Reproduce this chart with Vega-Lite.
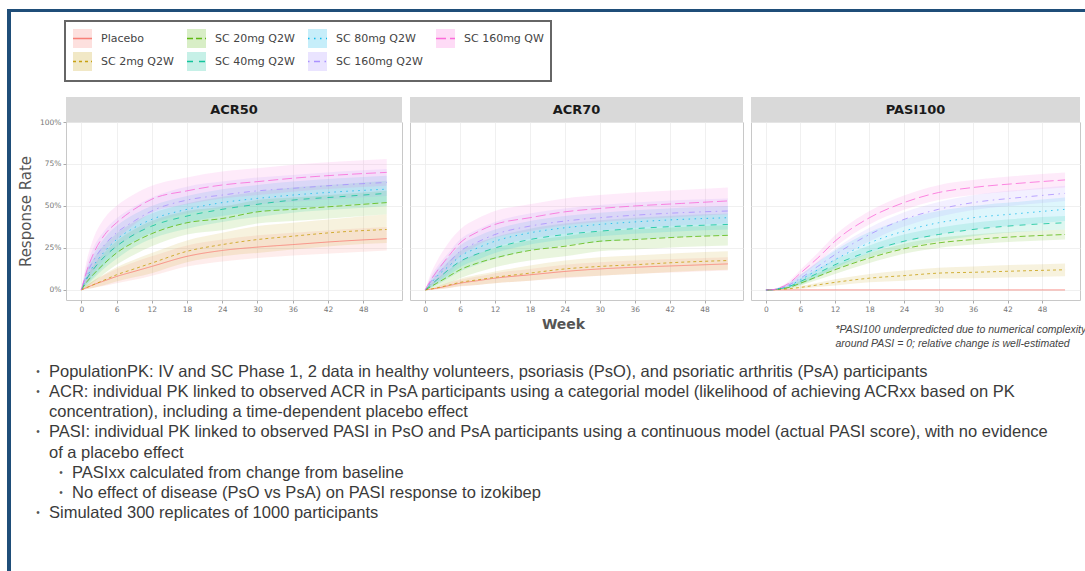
{
"background": "white",
"padding": {"left": 7, "top": 9, "right": 0, "bottom": 0},
"spacing": 0,
"config": {
 "font": "DejaVu Sans",
 "view": {"stroke": "#c8c8c8"},
 "axis": {"domain": false, "gridColor": "#ececec", "gridWidth": 0.8, "tickColor": "#aaaaaa", "tickSize": 3, "labelColor": "#777777", "labelFontSize": 7.5, "labelPadding": 2, "titleColor": "#555555", "labelFlush": false},
 "legend": {"strokeWidth": 2}
},
"datasets": {
 "acr50": [
  {"arm":"Placebo","wk":0,"y":0,"lo":0,"hi":0},{"arm":"Placebo","wk":1,"y":0.015,"lo":0.005,"hi":0.03},{"arm":"Placebo","wk":2,"y":0.03,"lo":0.012,"hi":0.05},{"arm":"Placebo","wk":4,"y":0.055,"lo":0.025,"hi":0.09},{"arm":"Placebo","wk":6,"y":0.08,"lo":0.04,"hi":0.125},{"arm":"Placebo","wk":9,"y":0.11,"lo":0.06,"hi":0.165},{"arm":"Placebo","wk":12,"y":0.14,"lo":0.085,"hi":0.2},{"arm":"Placebo","wk":18,"y":0.2,"lo":0.14,"hi":0.265},{"arm":"Placebo","wk":24,"y":0.235,"lo":0.17,"hi":0.3},{"arm":"Placebo","wk":30,"y":0.255,"lo":0.19,"hi":0.325},{"arm":"Placebo","wk":36,"y":0.27,"lo":0.205,"hi":0.34},{"arm":"Placebo","wk":44,"y":0.29,"lo":0.22,"hi":0.36},{"arm":"Placebo","wk":52,"y":0.305,"lo":0.235,"hi":0.375},
  {"arm":"SC 2mg Q2W","wk":0,"y":0,"lo":0,"hi":0},{"arm":"SC 2mg Q2W","wk":1,"y":0.015,"lo":0.005,"hi":0.03},{"arm":"SC 2mg Q2W","wk":2,"y":0.03,"lo":0.012,"hi":0.055},{"arm":"SC 2mg Q2W","wk":4,"y":0.06,"lo":0.03,"hi":0.095},{"arm":"SC 2mg Q2W","wk":6,"y":0.09,"lo":0.05,"hi":0.135},{"arm":"SC 2mg Q2W","wk":9,"y":0.125,"lo":0.075,"hi":0.18},{"arm":"SC 2mg Q2W","wk":12,"y":0.16,"lo":0.1,"hi":0.22},{"arm":"SC 2mg Q2W","wk":18,"y":0.23,"lo":0.165,"hi":0.295},{"arm":"SC 2mg Q2W","wk":24,"y":0.27,"lo":0.2,"hi":0.34},{"arm":"SC 2mg Q2W","wk":30,"y":0.3,"lo":0.22,"hi":0.38},{"arm":"SC 2mg Q2W","wk":36,"y":0.32,"lo":0.24,"hi":0.4},{"arm":"SC 2mg Q2W","wk":44,"y":0.345,"lo":0.265,"hi":0.425},{"arm":"SC 2mg Q2W","wk":52,"y":0.36,"lo":0.28,"hi":0.45},
  {"arm":"SC 20mg Q2W","wk":0,"y":0,"lo":0,"hi":0},{"arm":"SC 20mg Q2W","wk":1,"y":0.05,"lo":0.02,"hi":0.085},{"arm":"SC 20mg Q2W","wk":2,"y":0.09,"lo":0.045,"hi":0.14},{"arm":"SC 20mg Q2W","wk":4,"y":0.16,"lo":0.1,"hi":0.225},{"arm":"SC 20mg Q2W","wk":6,"y":0.22,"lo":0.15,"hi":0.29},{"arm":"SC 20mg Q2W","wk":9,"y":0.285,"lo":0.21,"hi":0.36},{"arm":"SC 20mg Q2W","wk":12,"y":0.335,"lo":0.26,"hi":0.41},{"arm":"SC 20mg Q2W","wk":18,"y":0.4,"lo":0.33,"hi":0.47},{"arm":"SC 20mg Q2W","wk":24,"y":0.425,"lo":0.355,"hi":0.495},{"arm":"SC 20mg Q2W","wk":30,"y":0.465,"lo":0.395,"hi":0.535},{"arm":"SC 20mg Q2W","wk":36,"y":0.48,"lo":0.41,"hi":0.55},{"arm":"SC 20mg Q2W","wk":44,"y":0.5,"lo":0.43,"hi":0.57},{"arm":"SC 20mg Q2W","wk":52,"y":0.52,"lo":0.45,"hi":0.59},
  {"arm":"SC 40mg Q2W","wk":0,"y":0,"lo":0,"hi":0},{"arm":"SC 40mg Q2W","wk":1,"y":0.07,"lo":0.03,"hi":0.115},{"arm":"SC 40mg Q2W","wk":2,"y":0.12,"lo":0.065,"hi":0.18},{"arm":"SC 40mg Q2W","wk":4,"y":0.2,"lo":0.13,"hi":0.27},{"arm":"SC 40mg Q2W","wk":6,"y":0.26,"lo":0.185,"hi":0.335},{"arm":"SC 40mg Q2W","wk":9,"y":0.33,"lo":0.255,"hi":0.405},{"arm":"SC 40mg Q2W","wk":12,"y":0.38,"lo":0.305,"hi":0.455},{"arm":"SC 40mg Q2W","wk":18,"y":0.44,"lo":0.365,"hi":0.515},{"arm":"SC 40mg Q2W","wk":24,"y":0.48,"lo":0.405,"hi":0.555},{"arm":"SC 40mg Q2W","wk":30,"y":0.51,"lo":0.435,"hi":0.585},{"arm":"SC 40mg Q2W","wk":36,"y":0.535,"lo":0.46,"hi":0.61},{"arm":"SC 40mg Q2W","wk":44,"y":0.555,"lo":0.48,"hi":0.63},{"arm":"SC 40mg Q2W","wk":52,"y":0.575,"lo":0.5,"hi":0.65},
  {"arm":"SC 80mg Q2W","wk":0,"y":0,"lo":0,"hi":0},{"arm":"SC 80mg Q2W","wk":1,"y":0.08,"lo":0.035,"hi":0.13},{"arm":"SC 80mg Q2W","wk":2,"y":0.14,"lo":0.075,"hi":0.205},{"arm":"SC 80mg Q2W","wk":4,"y":0.23,"lo":0.15,"hi":0.31},{"arm":"SC 80mg Q2W","wk":6,"y":0.3,"lo":0.22,"hi":0.38},{"arm":"SC 80mg Q2W","wk":9,"y":0.37,"lo":0.29,"hi":0.45},{"arm":"SC 80mg Q2W","wk":12,"y":0.42,"lo":0.34,"hi":0.5},{"arm":"SC 80mg Q2W","wk":18,"y":0.48,"lo":0.4,"hi":0.56},{"arm":"SC 80mg Q2W","wk":24,"y":0.52,"lo":0.44,"hi":0.6},{"arm":"SC 80mg Q2W","wk":30,"y":0.545,"lo":0.465,"hi":0.625},{"arm":"SC 80mg Q2W","wk":36,"y":0.565,"lo":0.485,"hi":0.645},{"arm":"SC 80mg Q2W","wk":44,"y":0.585,"lo":0.505,"hi":0.665},{"arm":"SC 80mg Q2W","wk":52,"y":0.6,"lo":0.52,"hi":0.68},
  {"arm":"SC 160mg Q2W","wk":0,"y":0,"lo":0,"hi":0},{"arm":"SC 160mg Q2W","wk":1,"y":0.1,"lo":0.045,"hi":0.155},{"arm":"SC 160mg Q2W","wk":2,"y":0.17,"lo":0.095,"hi":0.245},{"arm":"SC 160mg Q2W","wk":4,"y":0.27,"lo":0.185,"hi":0.355},{"arm":"SC 160mg Q2W","wk":6,"y":0.34,"lo":0.255,"hi":0.425},{"arm":"SC 160mg Q2W","wk":9,"y":0.41,"lo":0.325,"hi":0.495},{"arm":"SC 160mg Q2W","wk":12,"y":0.47,"lo":0.39,"hi":0.55},{"arm":"SC 160mg Q2W","wk":18,"y":0.535,"lo":0.455,"hi":0.615},{"arm":"SC 160mg Q2W","wk":24,"y":0.565,"lo":0.485,"hi":0.645},{"arm":"SC 160mg Q2W","wk":30,"y":0.59,"lo":0.51,"hi":0.67},{"arm":"SC 160mg Q2W","wk":36,"y":0.605,"lo":0.525,"hi":0.685},{"arm":"SC 160mg Q2W","wk":44,"y":0.625,"lo":0.545,"hi":0.705},{"arm":"SC 160mg Q2W","wk":52,"y":0.64,"lo":0.56,"hi":0.72},
  {"arm":"SC 160mg QW","wk":0,"y":0,"lo":0,"hi":0},{"arm":"SC 160mg QW","wk":1,"y":0.12,"lo":0.055,"hi":0.185},{"arm":"SC 160mg QW","wk":2,"y":0.21,"lo":0.12,"hi":0.3},{"arm":"SC 160mg QW","wk":4,"y":0.33,"lo":0.23,"hi":0.43},{"arm":"SC 160mg QW","wk":6,"y":0.4,"lo":0.3,"hi":0.5},{"arm":"SC 160mg QW","wk":9,"y":0.48,"lo":0.39,"hi":0.57},{"arm":"SC 160mg QW","wk":12,"y":0.54,"lo":0.46,"hi":0.62},{"arm":"SC 160mg QW","wk":18,"y":0.59,"lo":0.51,"hi":0.67},{"arm":"SC 160mg QW","wk":24,"y":0.625,"lo":0.545,"hi":0.705},{"arm":"SC 160mg QW","wk":30,"y":0.645,"lo":0.565,"hi":0.725},{"arm":"SC 160mg QW","wk":36,"y":0.665,"lo":0.585,"hi":0.745},{"arm":"SC 160mg QW","wk":44,"y":0.685,"lo":0.605,"hi":0.765},{"arm":"SC 160mg QW","wk":52,"y":0.7,"lo":0.62,"hi":0.78}
 ],
 "acr70": [
  {"arm":"Placebo","wk":0,"y":0,"lo":0,"hi":0},{"arm":"Placebo","wk":1,"y":0.005,"lo":0.001,"hi":0.009},{"arm":"Placebo","wk":2,"y":0.01,"lo":0.003,"hi":0.017},{"arm":"Placebo","wk":4,"y":0.025,"lo":0.01,"hi":0.04},{"arm":"Placebo","wk":6,"y":0.04,"lo":0.02,"hi":0.06},{"arm":"Placebo","wk":9,"y":0.055,"lo":0.03,"hi":0.08},{"arm":"Placebo","wk":12,"y":0.07,"lo":0.04,"hi":0.1},{"arm":"Placebo","wk":18,"y":0.09,"lo":0.055,"hi":0.125},{"arm":"Placebo","wk":24,"y":0.11,"lo":0.07,"hi":0.15},{"arm":"Placebo","wk":30,"y":0.125,"lo":0.085,"hi":0.165},{"arm":"Placebo","wk":36,"y":0.135,"lo":0.095,"hi":0.175},{"arm":"Placebo","wk":44,"y":0.145,"lo":0.105,"hi":0.185},{"arm":"Placebo","wk":52,"y":0.155,"lo":0.115,"hi":0.195},
  {"arm":"SC 2mg Q2W","wk":0,"y":0,"lo":0,"hi":0},{"arm":"SC 2mg Q2W","wk":1,"y":0.005,"lo":0.001,"hi":0.009},{"arm":"SC 2mg Q2W","wk":2,"y":0.012,"lo":0.004,"hi":0.02},{"arm":"SC 2mg Q2W","wk":4,"y":0.028,"lo":0.012,"hi":0.044},{"arm":"SC 2mg Q2W","wk":6,"y":0.045,"lo":0.023,"hi":0.067},{"arm":"SC 2mg Q2W","wk":9,"y":0.06,"lo":0.03,"hi":0.09},{"arm":"SC 2mg Q2W","wk":12,"y":0.075,"lo":0.04,"hi":0.11},{"arm":"SC 2mg Q2W","wk":18,"y":0.1,"lo":0.055,"hi":0.145},{"arm":"SC 2mg Q2W","wk":24,"y":0.125,"lo":0.075,"hi":0.175},{"arm":"SC 2mg Q2W","wk":30,"y":0.14,"lo":0.085,"hi":0.195},{"arm":"SC 2mg Q2W","wk":36,"y":0.15,"lo":0.095,"hi":0.205},{"arm":"SC 2mg Q2W","wk":44,"y":0.165,"lo":0.11,"hi":0.22},{"arm":"SC 2mg Q2W","wk":52,"y":0.175,"lo":0.12,"hi":0.23},
  {"arm":"SC 20mg Q2W","wk":0,"y":0,"lo":0,"hi":0},{"arm":"SC 20mg Q2W","wk":1,"y":0.02,"lo":0.008,"hi":0.035},{"arm":"SC 20mg Q2W","wk":2,"y":0.04,"lo":0.018,"hi":0.065},{"arm":"SC 20mg Q2W","wk":4,"y":0.08,"lo":0.04,"hi":0.12},{"arm":"SC 20mg Q2W","wk":6,"y":0.12,"lo":0.07,"hi":0.17},{"arm":"SC 20mg Q2W","wk":9,"y":0.16,"lo":0.105,"hi":0.215},{"arm":"SC 20mg Q2W","wk":12,"y":0.19,"lo":0.135,"hi":0.25},{"arm":"SC 20mg Q2W","wk":18,"y":0.235,"lo":0.175,"hi":0.295},{"arm":"SC 20mg Q2W","wk":24,"y":0.26,"lo":0.2,"hi":0.32},{"arm":"SC 20mg Q2W","wk":30,"y":0.29,"lo":0.23,"hi":0.35},{"arm":"SC 20mg Q2W","wk":36,"y":0.3,"lo":0.24,"hi":0.36},{"arm":"SC 20mg Q2W","wk":44,"y":0.315,"lo":0.255,"hi":0.375},{"arm":"SC 20mg Q2W","wk":52,"y":0.325,"lo":0.265,"hi":0.385},
  {"arm":"SC 40mg Q2W","wk":0,"y":0,"lo":0,"hi":0},{"arm":"SC 40mg Q2W","wk":1,"y":0.03,"lo":0.012,"hi":0.05},{"arm":"SC 40mg Q2W","wk":2,"y":0.06,"lo":0.03,"hi":0.09},{"arm":"SC 40mg Q2W","wk":4,"y":0.12,"lo":0.07,"hi":0.17},{"arm":"SC 40mg Q2W","wk":6,"y":0.17,"lo":0.11,"hi":0.23},{"arm":"SC 40mg Q2W","wk":9,"y":0.215,"lo":0.15,"hi":0.28},{"arm":"SC 40mg Q2W","wk":12,"y":0.25,"lo":0.185,"hi":0.315},{"arm":"SC 40mg Q2W","wk":18,"y":0.3,"lo":0.235,"hi":0.365},{"arm":"SC 40mg Q2W","wk":24,"y":0.33,"lo":0.265,"hi":0.395},{"arm":"SC 40mg Q2W","wk":30,"y":0.35,"lo":0.285,"hi":0.415},{"arm":"SC 40mg Q2W","wk":36,"y":0.365,"lo":0.3,"hi":0.43},{"arm":"SC 40mg Q2W","wk":44,"y":0.38,"lo":0.315,"hi":0.445},{"arm":"SC 40mg Q2W","wk":52,"y":0.39,"lo":0.325,"hi":0.455},
  {"arm":"SC 80mg Q2W","wk":0,"y":0,"lo":0,"hi":0},{"arm":"SC 80mg Q2W","wk":1,"y":0.04,"lo":0.015,"hi":0.065},{"arm":"SC 80mg Q2W","wk":2,"y":0.08,"lo":0.04,"hi":0.12},{"arm":"SC 80mg Q2W","wk":4,"y":0.14,"lo":0.085,"hi":0.195},{"arm":"SC 80mg Q2W","wk":6,"y":0.2,"lo":0.135,"hi":0.265},{"arm":"SC 80mg Q2W","wk":9,"y":0.25,"lo":0.18,"hi":0.32},{"arm":"SC 80mg Q2W","wk":12,"y":0.29,"lo":0.22,"hi":0.36},{"arm":"SC 80mg Q2W","wk":18,"y":0.34,"lo":0.27,"hi":0.41},{"arm":"SC 80mg Q2W","wk":24,"y":0.37,"lo":0.3,"hi":0.44},{"arm":"SC 80mg Q2W","wk":30,"y":0.39,"lo":0.32,"hi":0.46},{"arm":"SC 80mg Q2W","wk":36,"y":0.405,"lo":0.335,"hi":0.475},{"arm":"SC 80mg Q2W","wk":44,"y":0.42,"lo":0.35,"hi":0.49},{"arm":"SC 80mg Q2W","wk":52,"y":0.43,"lo":0.36,"hi":0.5},
  {"arm":"SC 160mg Q2W","wk":0,"y":0,"lo":0,"hi":0},{"arm":"SC 160mg Q2W","wk":1,"y":0.05,"lo":0.02,"hi":0.08},{"arm":"SC 160mg Q2W","wk":2,"y":0.09,"lo":0.045,"hi":0.135},{"arm":"SC 160mg Q2W","wk":4,"y":0.16,"lo":0.1,"hi":0.22},{"arm":"SC 160mg Q2W","wk":6,"y":0.23,"lo":0.16,"hi":0.3},{"arm":"SC 160mg Q2W","wk":9,"y":0.285,"lo":0.21,"hi":0.36},{"arm":"SC 160mg Q2W","wk":12,"y":0.33,"lo":0.255,"hi":0.405},{"arm":"SC 160mg Q2W","wk":18,"y":0.38,"lo":0.305,"hi":0.455},{"arm":"SC 160mg Q2W","wk":24,"y":0.41,"lo":0.335,"hi":0.485},{"arm":"SC 160mg Q2W","wk":30,"y":0.43,"lo":0.355,"hi":0.505},{"arm":"SC 160mg Q2W","wk":36,"y":0.445,"lo":0.37,"hi":0.52},{"arm":"SC 160mg Q2W","wk":44,"y":0.46,"lo":0.385,"hi":0.535},{"arm":"SC 160mg Q2W","wk":52,"y":0.47,"lo":0.395,"hi":0.545},
  {"arm":"SC 160mg QW","wk":0,"y":0,"lo":0,"hi":0},{"arm":"SC 160mg QW","wk":1,"y":0.06,"lo":0.025,"hi":0.1},{"arm":"SC 160mg QW","wk":2,"y":0.11,"lo":0.055,"hi":0.17},{"arm":"SC 160mg QW","wk":4,"y":0.2,"lo":0.125,"hi":0.28},{"arm":"SC 160mg QW","wk":6,"y":0.28,"lo":0.2,"hi":0.36},{"arm":"SC 160mg QW","wk":9,"y":0.345,"lo":0.265,"hi":0.425},{"arm":"SC 160mg QW","wk":12,"y":0.39,"lo":0.31,"hi":0.47},{"arm":"SC 160mg QW","wk":18,"y":0.43,"lo":0.35,"hi":0.51},{"arm":"SC 160mg QW","wk":24,"y":0.465,"lo":0.385,"hi":0.545},{"arm":"SC 160mg QW","wk":30,"y":0.485,"lo":0.405,"hi":0.565},{"arm":"SC 160mg QW","wk":36,"y":0.5,"lo":0.42,"hi":0.58},{"arm":"SC 160mg QW","wk":44,"y":0.515,"lo":0.435,"hi":0.595},{"arm":"SC 160mg QW","wk":52,"y":0.53,"lo":0.45,"hi":0.61}
 ],
 "pasi100": [
  {"arm":"Placebo","wk":0,"y":0,"lo":0,"hi":0},{"arm":"Placebo","wk":1,"y":0,"lo":0,"hi":0},{"arm":"Placebo","wk":2,"y":0,"lo":0,"hi":0},{"arm":"Placebo","wk":4,"y":0,"lo":0,"hi":0},{"arm":"Placebo","wk":6,"y":0,"lo":0,"hi":0},{"arm":"Placebo","wk":9,"y":0,"lo":0,"hi":0},{"arm":"Placebo","wk":12,"y":0,"lo":0,"hi":0},{"arm":"Placebo","wk":18,"y":0,"lo":0,"hi":0},{"arm":"Placebo","wk":24,"y":0,"lo":0,"hi":0},{"arm":"Placebo","wk":30,"y":0,"lo":0,"hi":0},{"arm":"Placebo","wk":36,"y":0,"lo":0,"hi":0},{"arm":"Placebo","wk":44,"y":0,"lo":0,"hi":0},{"arm":"Placebo","wk":52,"y":0,"lo":0,"hi":0},
  {"arm":"SC 2mg Q2W","wk":0,"y":0,"lo":0,"hi":0},{"arm":"SC 2mg Q2W","wk":1,"y":0,"lo":0,"hi":0},{"arm":"SC 2mg Q2W","wk":2,"y":0.002,"lo":0.001,"hi":0.003},{"arm":"SC 2mg Q2W","wk":4,"y":0.007,"lo":0.003,"hi":0.011},{"arm":"SC 2mg Q2W","wk":6,"y":0.015,"lo":0.007,"hi":0.023},{"arm":"SC 2mg Q2W","wk":9,"y":0.03,"lo":0.017,"hi":0.043},{"arm":"SC 2mg Q2W","wk":12,"y":0.045,"lo":0.027,"hi":0.063},{"arm":"SC 2mg Q2W","wk":18,"y":0.07,"lo":0.045,"hi":0.095},{"arm":"SC 2mg Q2W","wk":24,"y":0.085,"lo":0.055,"hi":0.115},{"arm":"SC 2mg Q2W","wk":30,"y":0.1,"lo":0.068,"hi":0.132},{"arm":"SC 2mg Q2W","wk":36,"y":0.105,"lo":0.07,"hi":0.14},{"arm":"SC 2mg Q2W","wk":44,"y":0.113,"lo":0.076,"hi":0.15},{"arm":"SC 2mg Q2W","wk":52,"y":0.12,"lo":0.082,"hi":0.158},
  {"arm":"SC 20mg Q2W","wk":0,"y":0,"lo":0,"hi":0},{"arm":"SC 20mg Q2W","wk":1,"y":0,"lo":0,"hi":0},{"arm":"SC 20mg Q2W","wk":2,"y":0.004,"lo":0.002,"hi":0.006},{"arm":"SC 20mg Q2W","wk":4,"y":0.015,"lo":0.008,"hi":0.022},{"arm":"SC 20mg Q2W","wk":6,"y":0.04,"lo":0.025,"hi":0.055},{"arm":"SC 20mg Q2W","wk":9,"y":0.08,"lo":0.06,"hi":0.1},{"arm":"SC 20mg Q2W","wk":12,"y":0.12,"lo":0.095,"hi":0.145},{"arm":"SC 20mg Q2W","wk":18,"y":0.19,"lo":0.16,"hi":0.22},{"arm":"SC 20mg Q2W","wk":24,"y":0.245,"lo":0.215,"hi":0.275},{"arm":"SC 20mg Q2W","wk":30,"y":0.28,"lo":0.25,"hi":0.31},{"arm":"SC 20mg Q2W","wk":36,"y":0.3,"lo":0.27,"hi":0.33},{"arm":"SC 20mg Q2W","wk":44,"y":0.318,"lo":0.288,"hi":0.348},{"arm":"SC 20mg Q2W","wk":52,"y":0.33,"lo":0.3,"hi":0.36},
  {"arm":"SC 40mg Q2W","wk":0,"y":0,"lo":0,"hi":0},{"arm":"SC 40mg Q2W","wk":1,"y":0,"lo":0,"hi":0},{"arm":"SC 40mg Q2W","wk":2,"y":0.005,"lo":0.002,"hi":0.008},{"arm":"SC 40mg Q2W","wk":4,"y":0.02,"lo":0.01,"hi":0.03},{"arm":"SC 40mg Q2W","wk":6,"y":0.05,"lo":0.03,"hi":0.07},{"arm":"SC 40mg Q2W","wk":9,"y":0.1,"lo":0.075,"hi":0.125},{"arm":"SC 40mg Q2W","wk":12,"y":0.15,"lo":0.12,"hi":0.18},{"arm":"SC 40mg Q2W","wk":18,"y":0.23,"lo":0.195,"hi":0.265},{"arm":"SC 40mg Q2W","wk":24,"y":0.29,"lo":0.25,"hi":0.33},{"arm":"SC 40mg Q2W","wk":30,"y":0.33,"lo":0.29,"hi":0.37},{"arm":"SC 40mg Q2W","wk":36,"y":0.36,"lo":0.32,"hi":0.4},{"arm":"SC 40mg Q2W","wk":44,"y":0.385,"lo":0.345,"hi":0.425},{"arm":"SC 40mg Q2W","wk":52,"y":0.4,"lo":0.36,"hi":0.44},
  {"arm":"SC 80mg Q2W","wk":0,"y":0,"lo":0,"hi":0},{"arm":"SC 80mg Q2W","wk":1,"y":0,"lo":0,"hi":0},{"arm":"SC 80mg Q2W","wk":2,"y":0.006,"lo":0.002,"hi":0.01},{"arm":"SC 80mg Q2W","wk":4,"y":0.025,"lo":0.012,"hi":0.04},{"arm":"SC 80mg Q2W","wk":6,"y":0.06,"lo":0.035,"hi":0.09},{"arm":"SC 80mg Q2W","wk":9,"y":0.12,"lo":0.08,"hi":0.165},{"arm":"SC 80mg Q2W","wk":12,"y":0.18,"lo":0.13,"hi":0.235},{"arm":"SC 80mg Q2W","wk":18,"y":0.28,"lo":0.22,"hi":0.345},{"arm":"SC 80mg Q2W","wk":24,"y":0.35,"lo":0.285,"hi":0.42},{"arm":"SC 80mg Q2W","wk":30,"y":0.4,"lo":0.33,"hi":0.47},{"arm":"SC 80mg Q2W","wk":36,"y":0.43,"lo":0.36,"hi":0.5},{"arm":"SC 80mg Q2W","wk":44,"y":0.455,"lo":0.385,"hi":0.525},{"arm":"SC 80mg Q2W","wk":52,"y":0.48,"lo":0.41,"hi":0.55},
  {"arm":"SC 160mg Q2W","wk":0,"y":0,"lo":0,"hi":0},{"arm":"SC 160mg Q2W","wk":1,"y":0,"lo":0,"hi":0},{"arm":"SC 160mg Q2W","wk":2,"y":0.007,"lo":0.003,"hi":0.011},{"arm":"SC 160mg Q2W","wk":4,"y":0.03,"lo":0.018,"hi":0.042},{"arm":"SC 160mg Q2W","wk":6,"y":0.07,"lo":0.05,"hi":0.09},{"arm":"SC 160mg Q2W","wk":9,"y":0.14,"lo":0.11,"hi":0.17},{"arm":"SC 160mg Q2W","wk":12,"y":0.21,"lo":0.175,"hi":0.245},{"arm":"SC 160mg Q2W","wk":18,"y":0.33,"lo":0.29,"hi":0.37},{"arm":"SC 160mg Q2W","wk":24,"y":0.42,"lo":0.378,"hi":0.462},{"arm":"SC 160mg Q2W","wk":30,"y":0.48,"lo":0.436,"hi":0.524},{"arm":"SC 160mg Q2W","wk":36,"y":0.52,"lo":0.476,"hi":0.564},{"arm":"SC 160mg Q2W","wk":44,"y":0.55,"lo":0.505,"hi":0.595},{"arm":"SC 160mg Q2W","wk":52,"y":0.575,"lo":0.53,"hi":0.62},
  {"arm":"SC 160mg QW","wk":0,"y":0,"lo":0,"hi":0},{"arm":"SC 160mg QW","wk":1,"y":0.001,"lo":0,"hi":0.002},{"arm":"SC 160mg QW","wk":2,"y":0.008,"lo":0.004,"hi":0.012},{"arm":"SC 160mg QW","wk":4,"y":0.04,"lo":0.027,"hi":0.053},{"arm":"SC 160mg QW","wk":6,"y":0.1,"lo":0.08,"hi":0.12},{"arm":"SC 160mg QW","wk":9,"y":0.19,"lo":0.16,"hi":0.22},{"arm":"SC 160mg QW","wk":12,"y":0.29,"lo":0.255,"hi":0.325},{"arm":"SC 160mg QW","wk":18,"y":0.43,"lo":0.39,"hi":0.47},{"arm":"SC 160mg QW","wk":24,"y":0.52,"lo":0.477,"hi":0.563},{"arm":"SC 160mg QW","wk":30,"y":0.58,"lo":0.536,"hi":0.624},{"arm":"SC 160mg QW","wk":36,"y":0.61,"lo":0.566,"hi":0.654},{"arm":"SC 160mg QW","wk":44,"y":0.635,"lo":0.59,"hi":0.68},{"arm":"SC 160mg QW","wk":52,"y":0.655,"lo":0.61,"hi":0.7}
 ]
},
"vconcat": [
 {"data": {"values": [{}]}, "width": 1078, "height": 3, "view": {"fill": "#1f4e79", "stroke": null}, "mark": {"type": "text", "fontSize": 0}, "encoding": {"text": {"value": ""}}},
 {"spacing": 7, "hconcat": [
  {"data": {"values": [{}]}, "width": 4, "height": 559, "view": {"fill": "#1f4e79", "stroke": null}, "mark": {"type": "text", "fontSize": 0}, "encoding": {"text": {"value": ""}}},
  {"spacing": 14, "vconcat": [
   {"data": {"values": [{}]}, "width": 10, "height": 71, "view": {"stroke": null}, "mark": {"type": "text", "fontSize": 0}, "encoding": {"text": {"value": ""}}},
   {"spacing": 6, "hconcat": [
    {"spacing": 0, "bounds": "flush", "vconcat": [
     {"data": {"values": [{"panel": "ACR50"}]}, "width": 336, "height": 25, "view": {"fill": "#d9d9d9", "stroke": null}, "mark": {"type": "text", "fontWeight": "bold", "fontSize": 13, "color": "#1a1a1a"}, "encoding": {"text": {"field": "panel", "type": "nominal"}}},
     {"data": {"name": "acr50"}, "width": 336, "height": 178,
      "encoding": {"x": {"field": "wk", "type": "quantitative", "scale": {"domain": [-2.6, 54.6], "nice": false, "zero": false}, "axis": {"values": [0,6,12,18,24,30,36,42,48], "title": null, "grid": true}}},
      "layer": [
       {"mark": {"type": "area", "opacity": 0.13, "interpolate": "monotone"},
        "encoding": {
         "y": {"field": "lo", "type": "quantitative", "scale": {"domain": [-0.06, 1], "nice": false, "zero": false}, "axis": {"values": [0,0.25,0.5,0.75,1], "format": ".0%", "title": "Response Rate", "titleFontSize": 15, "titleFontWeight": "normal", "titlePadding": 6, "grid": true}},
         "y2": {"field": "hi"},
         "fill": {"field": "arm", "type": "nominal", "sort": ["Placebo","SC 2mg Q2W","SC 20mg Q2W","SC 40mg Q2W","SC 80mg Q2W","SC 160mg Q2W","SC 160mg QW"], "scale": {"range": ["#F8766D","#C49A00","#53B400","#00C094","#00B6EB","#A58AFF","#FB61D7"]},
          "legend": {"orient":"none","legendX":58,"legendY":12,"title":null,"columns":4,"symbolType":"square","symbolSize":361,"symbolOpacity":0.22,"symbolStrokeWidth":1.5,"symbolStrokeColor":"transparent","labelOpacity":0,"labelFont":"DejaVu Sans","labelFontSize":11,"labelOffset":8,"columnPadding":10,"rowPadding":-4,"padding":7}}
        }},
       {"mark": {"type": "line", "strokeWidth": 1, "opacity": 0.75, "interpolate": "monotone"},
        "encoding": {
         "y": {"field": "y", "type": "quantitative", "scale": {"domain": [-0.06, 1], "nice": false, "zero": false}, "axis": {"values": [0,0.25,0.5,0.75,1], "format": ".0%", "title": "Response Rate", "titleFontSize": 15, "titleFontWeight": "normal", "titlePadding": 6, "grid": true}},
         "stroke": {"field": "arm", "type": "nominal", "scale": {"domain": ["Placebo","SC 2mg Q2W","SC 20mg Q2W","SC 40mg Q2W","SC 80mg Q2W","SC 160mg Q2W","SC 160mg QW"], "range": ["#F8766D","#C49A00","#53B400","#00C094","#00B6EB","#A58AFF","#FB61D7"]},
          "legend": {"orient":"none","legendX":58,"legendY":12,"title":null,"columns":4,"symbolType":"M-1,-1M-1,0H1M1,1","symbolSize":361,"symbolStrokeWidth":1.5,"symbolOpacity":0.9,"labelFont":"DejaVu Sans","labelFontSize":11,"labelColor":"#444444","labelOffset":8,"columnPadding":10,"rowPadding":-4,"padding":7,"strokeColor":"#666666"}},
         "strokeDash": {"field": "arm", "type": "nominal", "scale": {"domain": ["Placebo","SC 2mg Q2W","SC 20mg Q2W","SC 40mg Q2W","SC 80mg Q2W","SC 160mg Q2W","SC 160mg QW"], "range": [[1,0],[3,3],[6,3],[6,6],[1.5,4.5],[1.5,4.5,6,4.5],[10,4]]},
          "legend": {"orient":"none","legendX":58,"legendY":12,"title":null,"columns":4,"symbolType":"M-1,-1M-1,0H1M1,1","symbolSize":361,"symbolStrokeWidth":1.5,"symbolOpacity":0.9,"labelFont":"DejaVu Sans","labelFontSize":11,"labelColor":"#444444","labelOffset":8,"columnPadding":10,"rowPadding":-4,"padding":7,"strokeColor":"#666666"}}
        }}
      ]}
    ]},
    {"spacing": 0, "bounds": "flush", "vconcat": [
     {"data": {"values": [{"panel": "ACR70"}]}, "width": 333, "height": 25, "view": {"fill": "#d9d9d9", "stroke": null}, "mark": {"type": "text", "fontWeight": "bold", "fontSize": 13, "color": "#1a1a1a"}, "encoding": {"text": {"field": "panel", "type": "nominal"}}},
     {"data": {"name": "acr70"}, "width": 333, "height": 178,
      "encoding": {"x": {"field": "wk", "type": "quantitative", "scale": {"domain": [-2.6, 54.6], "nice": false, "zero": false}, "axis": {"values": [0,6,12,18,24,30,36,42,48], "title": "Week", "titleFontSize": 14, "titleFontWeight": "bold", "titleX": 153, "titleY": 24, "titleBaseline": "middle", "grid": true}}},
      "layer": [
       {"mark": {"type": "area", "opacity": 0.13, "interpolate": "monotone"},
        "encoding": {
         "y": {"field": "lo", "type": "quantitative", "scale": {"domain": [-0.06, 1], "nice": false, "zero": false}, "axis": {"values": [0,0.25,0.5,0.75,1], "labels": false, "ticks": false, "title": null, "grid": true}},
         "y2": {"field": "hi"},
         "fill": {"field": "arm", "type": "nominal", "sort": ["Placebo","SC 2mg Q2W","SC 20mg Q2W","SC 40mg Q2W","SC 80mg Q2W","SC 160mg Q2W","SC 160mg QW"], "scale": {"range": ["#F8766D","#C49A00","#53B400","#00C094","#00B6EB","#A58AFF","#FB61D7"]},
          "legend": {"orient":"none","legendX":58,"legendY":12,"title":null,"columns":4,"symbolType":"square","symbolSize":361,"symbolOpacity":0.22,"symbolStrokeWidth":1.5,"symbolStrokeColor":"transparent","labelOpacity":0,"labelFont":"DejaVu Sans","labelFontSize":11,"labelOffset":8,"columnPadding":10,"rowPadding":-4,"padding":7}}
        }},
       {"mark": {"type": "line", "strokeWidth": 1, "opacity": 0.75, "interpolate": "monotone"},
        "encoding": {
         "y": {"field": "y", "type": "quantitative", "scale": {"domain": [-0.06, 1], "nice": false, "zero": false}, "axis": {"values": [0,0.25,0.5,0.75,1], "labels": false, "ticks": false, "title": null, "grid": true}},
         "stroke": {"field": "arm", "type": "nominal", "scale": {"domain": ["Placebo","SC 2mg Q2W","SC 20mg Q2W","SC 40mg Q2W","SC 80mg Q2W","SC 160mg Q2W","SC 160mg QW"], "range": ["#F8766D","#C49A00","#53B400","#00C094","#00B6EB","#A58AFF","#FB61D7"]},
          "legend": {"orient":"none","legendX":58,"legendY":12,"title":null,"columns":4,"symbolType":"M-1,-1M-1,0H1M1,1","symbolSize":361,"symbolStrokeWidth":1.5,"symbolOpacity":0.9,"labelFont":"DejaVu Sans","labelFontSize":11,"labelColor":"#444444","labelOffset":8,"columnPadding":10,"rowPadding":-4,"padding":7,"strokeColor":"#666666"}},
         "strokeDash": {"field": "arm", "type": "nominal", "scale": {"domain": ["Placebo","SC 2mg Q2W","SC 20mg Q2W","SC 40mg Q2W","SC 80mg Q2W","SC 160mg Q2W","SC 160mg QW"], "range": [[1,0],[3,3],[6,3],[6,6],[1.5,4.5],[1.5,4.5,6,4.5],[10,4]]},
          "legend": {"orient":"none","legendX":58,"legendY":12,"title":null,"columns":4,"symbolType":"M-1,-1M-1,0H1M1,1","symbolSize":361,"symbolStrokeWidth":1.5,"symbolOpacity":0.9,"labelFont":"DejaVu Sans","labelFontSize":11,"labelColor":"#444444","labelOffset":8,"columnPadding":10,"rowPadding":-4,"padding":7,"strokeColor":"#666666"}}
        }}
      ]}
    ]},
    {"spacing": 0, "bounds": "flush", "vconcat": [
     {"data": {"values": [{"panel": "PASI100"}]}, "width": 329, "height": 25, "view": {"fill": "#d9d9d9", "stroke": null}, "mark": {"type": "text", "fontWeight": "bold", "fontSize": 13, "color": "#1a1a1a"}, "encoding": {"text": {"field": "panel", "type": "nominal"}}},
     {"data": {"name": "pasi100"}, "width": 329, "height": 178,
      "encoding": {"x": {"field": "wk", "type": "quantitative", "scale": {"domain": [-2.6, 54.6], "nice": false, "zero": false}, "axis": {"values": [0,6,12,18,24,30,36,42,48], "title": ["*PASI100 underpredicted due to numerical complexity", "around PASI = 0; relative change is well-estimated"], "titleFont": "Liberation Sans", "titleFontStyle": "italic", "titleFontSize": 10.5, "titleFontWeight": "normal", "titleColor": "#444444", "titleAlign": "left", "titleBaseline": "top", "titleLineHeight": 14, "titleX": 84, "titleY": 24.5, "grid": true}}},
      "layer": [
       {"mark": {"type": "area", "opacity": 0.13, "interpolate": "monotone"},
        "encoding": {
         "y": {"field": "lo", "type": "quantitative", "scale": {"domain": [-0.06, 1], "nice": false, "zero": false}, "axis": {"values": [0,0.25,0.5,0.75,1], "labels": false, "ticks": false, "title": null, "grid": true}},
         "y2": {"field": "hi"},
         "fill": {"field": "arm", "type": "nominal", "sort": ["Placebo","SC 2mg Q2W","SC 20mg Q2W","SC 40mg Q2W","SC 80mg Q2W","SC 160mg Q2W","SC 160mg QW"], "scale": {"range": ["#F8766D","#C49A00","#53B400","#00C094","#00B6EB","#A58AFF","#FB61D7"]},
          "legend": {"orient":"none","legendX":58,"legendY":12,"title":null,"columns":4,"symbolType":"square","symbolSize":361,"symbolOpacity":0.22,"symbolStrokeWidth":1.5,"symbolStrokeColor":"transparent","labelOpacity":0,"labelFont":"DejaVu Sans","labelFontSize":11,"labelOffset":8,"columnPadding":10,"rowPadding":-4,"padding":7}}
        }},
       {"mark": {"type": "line", "strokeWidth": 1, "opacity": 0.75, "interpolate": "monotone"},
        "encoding": {
         "y": {"field": "y", "type": "quantitative", "scale": {"domain": [-0.06, 1], "nice": false, "zero": false}, "axis": {"values": [0,0.25,0.5,0.75,1], "labels": false, "ticks": false, "title": null, "grid": true}},
         "stroke": {"field": "arm", "type": "nominal", "scale": {"domain": ["Placebo","SC 2mg Q2W","SC 20mg Q2W","SC 40mg Q2W","SC 80mg Q2W","SC 160mg Q2W","SC 160mg QW"], "range": ["#F8766D","#C49A00","#53B400","#00C094","#00B6EB","#A58AFF","#FB61D7"]},
          "legend": {"orient":"none","legendX":58,"legendY":12,"title":null,"columns":4,"symbolType":"M-1,-1M-1,0H1M1,1","symbolSize":361,"symbolStrokeWidth":1.5,"symbolOpacity":0.9,"labelFont":"DejaVu Sans","labelFontSize":11,"labelColor":"#444444","labelOffset":8,"columnPadding":10,"rowPadding":-4,"padding":7,"strokeColor":"#666666"}},
         "strokeDash": {"field": "arm", "type": "nominal", "scale": {"domain": ["Placebo","SC 2mg Q2W","SC 20mg Q2W","SC 40mg Q2W","SC 80mg Q2W","SC 160mg Q2W","SC 160mg QW"], "range": [[1,0],[3,3],[6,3],[6,6],[1.5,4.5],[1.5,4.5,6,4.5],[10,4]]},
          "legend": {"orient":"none","legendX":58,"legendY":12,"title":null,"columns":4,"symbolType":"M-1,-1M-1,0H1M1,1","symbolSize":361,"symbolStrokeWidth":1.5,"symbolOpacity":0.9,"labelFont":"DejaVu Sans","labelFontSize":11,"labelColor":"#444444","labelOffset":8,"columnPadding":10,"rowPadding":-4,"padding":7,"strokeColor":"#666666"}}
        }}
      ]}
    ]}
   ]},
   {"data": {"values": [
     {"n": 1, "lvl": 0, "b": "•", "s": "PopulationPK:  IV and SC Phase 1, 2 data in healthy volunteers, psoriasis (PsO), and psoriatic arthritis (PsA) participants"},
     {"n": 2, "lvl": 0, "b": "•", "s": "ACR: individual PK linked to observed ACR in PsA participants using a categorial model (likelihood of achieving ACRxx based on PK"},
     {"n": 3, "lvl": 0, "b": "", "s": "concentration), including a time-dependent  placebo effect"},
     {"n": 4, "lvl": 0, "b": "•", "s": "PASI: individual PK linked to observed PASI in PsO and PsA participants using a continuous model (actual PASI score), with no evidence"},
     {"n": 5, "lvl": 0, "b": "", "s": "of a placebo effect"},
     {"n": 6, "lvl": 1, "b": "•", "s": "PASIxx calculated from change from baseline"},
     {"n": 7, "lvl": 1, "b": "•", "s": "No effect of disease (PsO vs PsA) on PASI response to izokibep"},
     {"n": 8, "lvl": 0, "b": "•", "s": "Simulated 300 replicates of 1000 participants"}
    ]},
    "width": 990, "height": 141, "view": {"stroke": null},
    "encoding": {
     "y": {"field": "n", "type": "ordinal", "scale": {"type": "point", "padding": 0}, "axis": null},
     "x": {"field": "lvl", "type": "quantitative", "scale": {"domain": [0, 1], "range": [-28, -5], "nice": false, "zero": false}, "axis": null}
    },
    "layer": [
     {"mark": {"type": "text", "font": "Liberation Sans", "fontSize": 10, "color": "#555555", "align": "center", "baseline": "middle"}, "encoding": {"text": {"field": "b", "type": "nominal"}}},
     {"mark": {"type": "text", "font": "Liberation Sans", "fontSize": 16.5, "color": "#3a3a3a", "align": "left", "baseline": "middle", "dx": 11}, "encoding": {"text": {"field": "s", "type": "nominal"}}}
    ]
   }
  ]}
 ]}
]
}
